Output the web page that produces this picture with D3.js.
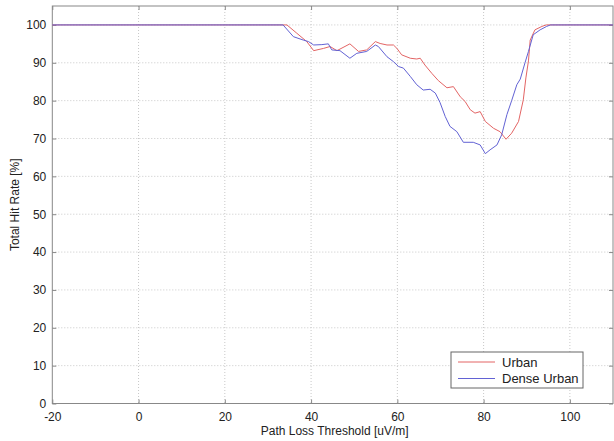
<!DOCTYPE html>
<html>
<head>
<meta charset="utf-8">
<script src="https://cdn.jsdelivr.net/npm/d3@7"></script>
<style>
  body { margin:0; background:#fff; }
  text { font-family: Arial, "Liberation Sans", sans-serif; fill:#222; }
  .grid line { stroke:#c8c8c8; stroke-dasharray:1,2; }
</style>
</head>
<body>
<div id="canvas"></div>
<script>
// values
var xTicks = [-20, 0, 20, 40, 60, 80, 100];
var yTicks = [0, 10, 20, 30, 40, 50, 60, 70, 80, 90, 100];

var urbanX = [-20, 34.4, 36.7, 39, 40.6, 42.9, 44.4, 46, 49, 51, 52.9, 54.9, 56, 57.6, 59.1, 59.9, 61, 63, 64.5, 65.3,
  66.4, 68, 69.5, 71.5, 73, 74.6, 75.7, 76.9, 78, 79.2, 80.4, 82.3, 83.8, 85.2, 86.5, 88.1, 89.2, 89.8, 90.4, 90.8,
  91.9, 93.5, 94.5, 110];
var urbanY = [100, 100, 97.8, 95.6, 93.2, 93.8, 94.3, 93.2, 95, 93, 93.4, 95.6, 95.1, 94.7, 94.7, 93.8, 92.1, 91.2, 91, 91.2,
  89.4, 87.2, 85.3, 83.4, 83.7, 81, 79.8, 77.6, 76.7, 77.1, 74.5, 72.7, 71.8, 69.8, 71.4, 74.5, 80.2, 86, 90.5, 96,
  98.7, 99.6, 100, 100];

var denseX = [-20, 33.5, 35.9, 38.2, 39.4, 40.6, 42.5, 44, 44.8, 46.7, 49, 50.6, 52.9, 54.9, 55.6, 57.6, 59.1, 60.3, 61.4, 63,
  64.5, 66, 67.6, 68.8, 69.9, 71.1, 72.2, 73.8, 75.3, 77.6, 79.2, 80.4, 81.5, 83.1, 84.2, 85.4, 86.5, 87.7, 88.5, 89.6,
  90.4, 91.5, 93.1, 94.6, 95.5, 110];
var denseY = [100, 100, 96.9, 96, 95.6, 94.7, 94.8, 95, 93.4, 93.2, 91.2, 92.5, 93, 94.7, 94.3, 91.6, 90.3, 89, 88.6, 86.4,
  84.2, 82.8, 83, 82, 79.5, 75.8, 73.2, 71.8, 69, 69, 68.3, 66, 67, 68.3, 71, 76.3, 80, 84.2, 85.7, 90,
  93, 97.4, 98.7, 99.6, 100, 100];

var seriesNames = ['Urban', 'Dense Urban'];
var seriesColors = ['#e36464', '#6262d4'];

var outerWidth = 614, outerHeight = 441;
var m = {t:6, r:1, b:37.5, l:52.3};
var w = outerWidth - m.l - m.r,
    h = outerHeight - m.t - m.b;

var svg = d3.select('#canvas')
    .append('svg')
    .attr('width', outerWidth)
    .attr('height', outerHeight);

var plot = svg.append('g')
    .attr('transform', 'translate(' + m.l + ',' + m.t + ')');

var scaleX = d3.scaleLinear().domain([-20, 110]).range([0, w]);
var scaleY = d3.scaleLinear().domain([0, 105]).range([h, 0]);

// dotted grid
plot.append('g').attr('class', 'grid')
    .selectAll('line').data(xTicks.slice(1))
    .enter().append('line')
    .attr('x1', function(d){ return scaleX(d); })
    .attr('x2', function(d){ return scaleX(d); })
    .attr('y1', 0).attr('y2', h);
plot.append('g').attr('class', 'grid')
    .selectAll('line').data(yTicks.slice(1))
    .enter().append('line')
    .attr('y1', function(d){ return scaleY(d); })
    .attr('y2', function(d){ return scaleY(d); })
    .attr('x1', 0).attr('x2', w);

// axes, ticks pointing inward; plain hyphen for negatives like the original
var fmt = function(d){ return String(d); };
var axisX = d3.axisBottom(scaleX).tickValues(xTicks).tickSize(-4).tickPadding(9).tickFormat(fmt);
var axisY = d3.axisLeft(scaleY).tickValues(yTicks).tickSize(-4).tickPadding(6).tickFormat(fmt);
var axisXTop = d3.axisTop(scaleX).tickValues(xTicks).tickSize(-4).tickFormat('');
var axisYRight = d3.axisRight(scaleY).tickValues(yTicks).tickSize(-4).tickFormat('');

function styleAxis(g){
    g.select('.domain').remove();
    g.selectAll('line').attr('stroke', '#888');
    g.selectAll('text').style('font-size', '12px').attr('fill', '#222')
        .attr('font-family', 'Arial, "Liberation Sans", sans-serif');
}

plot.append('g').attr('transform', 'translate(0,' + h + ')').call(axisX).call(styleAxis);
plot.append('g').call(axisY).call(styleAxis);
plot.append('g').call(axisXTop).call(styleAxis);
plot.append('g').attr('transform', 'translate(' + w + ',0)').call(axisYRight).call(styleAxis);

// box
plot.append('rect')
    .attr('x', 0).attr('y', 0)
    .attr('width', w).attr('height', h)
    .attr('fill', 'none')
    .attr('stroke', '#888');

// lines
var line = d3.line()
    .x(function(d){ return scaleX(d[0]); })
    .y(function(d){ return scaleY(d[1]); });

var series = [
    d3.zip(urbanX, urbanY),
    d3.zip(denseX, denseY)
];

plot.selectAll('.series')
    .data(series)
    .enter().append('path')
    .attr('class', 'series')
    .attr('d', line)
    .attr('fill', 'none')
    .attr('stroke', function(d, i){ return seriesColors[i]; })
    .attr('stroke-width', 1);

// axis titles
svg.append('text')
    .attr('x', m.l + w / 2 + 2)
    .attr('y', 435)
    .attr('text-anchor', 'middle')
    .style('font-size', '12px')
    .text('Path Loss Threshold [uV/m]');

svg.append('text')
    .attr('transform', 'translate(19,' + (m.t + h / 2) + ') rotate(-90)')
    .attr('text-anchor', 'middle')
    .style('font-size', '12px')
    .text('Total Hit Rate [%]');

// legend
var legend = svg.append('g').attr('transform', 'translate(451,352)');
legend.append('rect')
    .attr('width', 132).attr('height', 36)
    .attr('fill', '#fff')
    .attr('stroke', '#666');

var items = legend.selectAll('.item')
    .data(seriesNames)
    .enter().append('g')
    .attr('class', 'item')
    .attr('transform', function(d, i){ return 'translate(0,' + (10 + i * 16.5) + ')'; });

items.append('line')
    .attr('x1', 7).attr('x2', 44)
    .attr('stroke', function(d, i){ return seriesColors[i]; })
    .attr('stroke-width', 1);

items.append('text')
    .attr('x', 51)
    .attr('dy', '0.35em')
    .style('font-size', '13px')
    .text(function(d){ return d; });
</script>
</body>
</html>
